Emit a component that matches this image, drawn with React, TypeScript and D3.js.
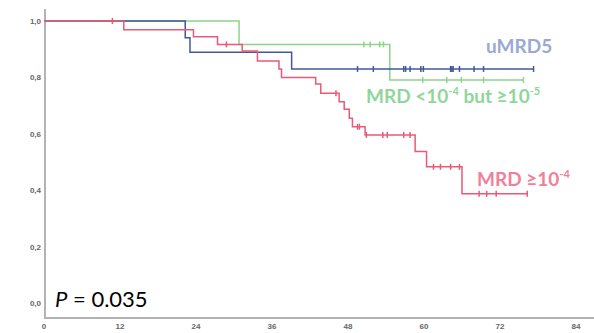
import React from "react";
import * as d3 from "d3";

// Kaplan–Meier curves by MRD status (months on x, survival probability on y)
const redTimes = [0, 12.6, 23.6, 27.4, 31.3, 33.7, 37.1, 37.5, 42.9, 43.7, 46.6, 47.4, 48.2, 48.7, 50.7, 58.6, 60.4, 66.0];
const redSurv = [1.0, 0.969, 0.944, 0.917, 0.894, 0.858, 0.83, 0.8, 0.777, 0.744, 0.714, 0.687, 0.655, 0.625, 0.596, 0.537, 0.483, 0.387];
const redEnd = 76.3;
const redCensor = [10.8, 28.8, 46.1, 49.5, 49.8, 50.9, 53.5, 54.2, 56.8, 57.8, 61.5, 62.6, 64.2, 65.6, 68.7, 69.9, 71.4, 76.3];

const blueTimes = [0, 22.3, 23.05, 39.1];
const blueSurv = [1.0, 0.941, 0.889, 0.83];
const blueEnd = 77.3;
const blueCensor = [49.5, 52.0, 56.8, 57.1, 57.8, 59.5, 59.9, 64.2, 64.4, 64.6, 65.6, 67.9, 69.4, 77.3];

const greenTimes = [0, 30.8, 54.6];
const greenSurv = [1.0, 0.917, 0.791];
const greenEnd = 75.7;
const greenCensor = [50.5, 51.5, 53.0, 53.6, 59.8, 63.6, 65.9, 69.4, 75.7];

const xTicks = [0, 12, 24, 36, 48, 60, 72, 84];
const yTicks = [0, 0.2, 0.4, 0.6, 0.8, 1.0];

const W = 594;
const H = 333;

const x = d3.scaleLinear().domain([0, 84]).range([44, 576]);
const y = d3.scaleLinear().domain([0, 1]).range([303, 21]);

const stepLine = d3
  .line<[number, number]>()
  .x((d) => x(d[0]))
  .y((d) => y(d[1]))
  .curve(d3.curveStepAfter);

function survAt(times: number[], surv: number[], t: number) {
  let s = surv[0];
  for (let i = 0; i < times.length; i++) if (times[i] <= t) s = surv[i];
  return s;
}

function Curve({ times, surv, end, censor, color }: { times: number[]; surv: number[]; end: number; censor: number[]; color: string }) {
  const pts: [number, number][] = times.map((t, i) => [t, surv[i]]);
  pts.push([end, surv[surv.length - 1]]);
  return (
    <g>
      <path d={stepLine(pts) ?? ""} fill="none" stroke={color} strokeWidth={1.5} />
      {censor.map((c, i) => {
        const cy = y(survAt(times, surv, c));
        return <line key={i} x1={x(c)} x2={x(c)} y1={cy - 3} y2={cy + 3} stroke={color} strokeWidth={1.5} />;
      })}
    </g>
  );
}

const fmt = (v: number) => v.toFixed(1).replace(".", ",");

export default function App() {
  const labelFont = "Lato, 'Open Sans', sans-serif";
  return (
    <svg width={W} height={H} style={{ position: "absolute", left: 0, top: 0, background: "#fff" }}>
      {/* axes */}
      <line x1={45} x2={45} y1={9} y2={318} stroke="#b3b3b3" strokeWidth={2} />
      <line x1={44} x2={594} y1={318} y2={318} stroke="#b3b3b3" strokeWidth={2} />
      {yTicks.map((t) => (
        <text key={t} x={41} y={y(t) + 3} textAnchor="end" fontSize={8} fontWeight="bold" fill="#666" fontFamily="'Liberation Sans', Arial, sans-serif">
          {fmt(t)}
        </text>
      ))}
      {xTicks.map((t) => (
        <text key={t} x={x(t)} y={329} textAnchor="middle" fontSize={8} fontWeight="bold" fill="#666" fontFamily="'Liberation Sans', Arial, sans-serif">
          {t}
        </text>
      ))}

      <Curve times={greenTimes} surv={greenSurv} end={greenEnd} censor={greenCensor} color="#8fd48c" />
      <Curve times={blueTimes} surv={blueSurv} end={blueEnd} censor={blueCensor} color="#41599c" />
      <Curve times={redTimes} surv={redSurv} end={redEnd} censor={redCensor} color="#ea5a76" />

      {/* group labels */}
      <text x={486} y={53} fontSize={19} fontWeight="bold" fill="#9aa9d3" fontFamily={labelFont}>
        uMRD5
      </text>
      <text x={366} y={103} fontSize={19} fontWeight="bold" fill="#8fd69b" fontFamily={labelFont}>
        MRD &lt;10
        <tspan fontSize={11} dy={-8}>-4</tspan>
        <tspan dy={8}> but ≥10</tspan>
        <tspan fontSize={11} dy={-8}>-5</tspan>
      </text>
      <text x={477} y={186} fontSize={19} fontWeight="bold" fill="#f18099" fontFamily={labelFont}>
        MRD ≥10
        <tspan fontSize={11} dy={-8}>-4</tspan>
      </text>

      <text x={55} y={307} fontSize={22} fill="#000" fontFamily={labelFont}>
        <tspan fontStyle="italic">P</tspan> = 0.035
      </text>
    </svg>
  );
}
